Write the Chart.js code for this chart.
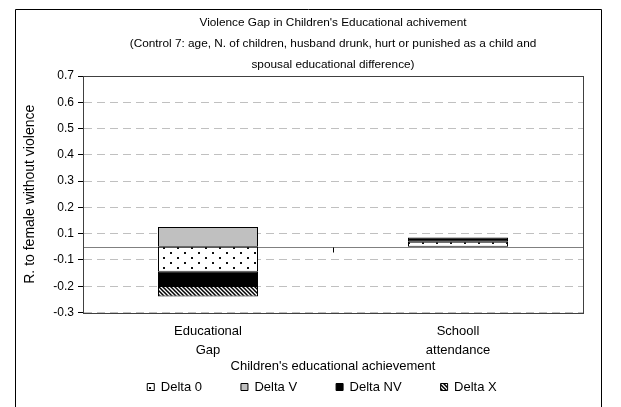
<!DOCTYPE html>
<html>
<head>
<meta charset="utf-8">
<script src="https://cdn.jsdelivr.net/npm/chart.js@4/dist/chart.umd.min.js"></script>
<style>
html, body { margin: 0; padding: 0; background: #fff; }
#wrap { width: 621px; height: 407px; }
</style>
</head>
<body>
<div id="wrap"><canvas id="gapChart" width="621" height="407"></canvas></div>
<script>
// values
var categories = [['Educational', 'Gap'], ['Schooll', 'attendance']];
var delta0 = [-0.095, 0.019];
var deltaV = [0.075, 0];
var deltaNV = [-0.054, 0.016];
var deltaX = [-0.04, 0];

// the axis ticks sit half way between the printed values
var yTickValues = [-0.25, -0.15, -0.05, 0.05, 0.15, 0.25, 0.35, 0.45, 0.55, 0.65];
var yTickLabels = ['-0.3', '-0.2', '-0.1', '0.1', '0.2', '0.3', '0.4', '0.5', '0.6', '0.7'];

var titleLines = [
    "Violence Gap in Children's Educational achivement",
    "(Control 7: age, N. of children, husband drunk, hurt or punished as a child and",
    "spousal educational difference)"
];
var yTitle = 'R. to female without violence';
var xTitle = "Children's educational achievement";

var FONT = "'Liberation Sans', Arial, sans-serif";

function makePattern(w, h, draw) {
    var c = document.createElement('canvas');
    c.width = w;
    c.height = h;
    var g = c.getContext('2d');
    draw(g, w, h);
    return g.createPattern(c, 'repeat');
}

var dotPattern = makePattern(14, 10, function (g, w, h) {
    g.fillStyle = '#fff';
    g.fillRect(0, 0, w, h);
    g.fillStyle = '#111';
    g.fillRect(2, 2, 2, 2);
    g.fillRect(9, 7, 2, 2);
});

var hatchPattern = makePattern(4, 4, function (g, w, h) {
    g.fillStyle = '#fff';
    g.fillRect(0, 0, w, h);
    g.strokeStyle = '#000';
    g.lineWidth = 1.5;
    g.beginPath();
    g.moveTo(-1, -1); g.lineTo(5, 5);
    g.moveTo(-1, 3); g.lineTo(1, 5);
    g.moveTo(3, -1); g.lineTo(5, 1);
    g.stroke();
});

var framePlugin = {
    id: 'frame',
    beforeDraw: function (chart) {
        var ctx = chart.ctx;
        ctx.save();
        ctx.fillStyle = '#fff';
        ctx.fillRect(0, 0, chart.width, chart.height);
        ctx.restore();
    },
    afterLayout: function (chart) {
        // legend sits closer to the axis title than chart.js would put it
        var lg = chart.legend;
        lg.top = 341.5;
        lg.bottom = chart.height;
        lg.height = lg.bottom - lg.top;
        lg.left -= 11;
        lg.right -= 11;
    },
    beforeDatasetsDraw: function (chart) {
        var ctx = chart.ctx, a = chart.chartArea;
        var xs = chart.scales.x, ys = chart.scales.y;
        var y0 = Math.round(ys.getPixelForValue(0)) + 0.5;
        var mid = Math.round((xs.getPixelForValue(0) + xs.getPixelForValue(1)) / 2) + 0.5;
        ctx.save();
        ctx.strokeStyle = '#808080';
        ctx.lineWidth = 1;
        ctx.beginPath();
        ctx.moveTo(a.left, y0);
        ctx.lineTo(a.right, y0);
        ctx.stroke();
        ctx.strokeStyle = '#000';
        ctx.beginPath();
        ctx.moveTo(mid, y0);
        ctx.lineTo(mid, y0 + 5);
        ctx.stroke();
        ctx.restore();
    },
    afterDraw: function (chart) {
        var ctx = chart.ctx, a = chart.chartArea;
        ctx.save();
        ctx.lineWidth = 1;
        ctx.strokeStyle = '#404040';
        ctx.strokeRect(Math.round(a.left) + 0.5, Math.round(a.top) + 0.5,
            Math.round(a.right - a.left), Math.round(a.bottom - a.top));
        // outer chart frame
        ctx.strokeStyle = '#000';
        ctx.beginPath();
        ctx.moveTo(15.5, chart.height + 2);
        ctx.lineTo(15.5, 9.5);
        ctx.lineTo(601.5, 9.5);
        ctx.lineTo(601.5, chart.height + 2);
        ctx.stroke();
        ctx.restore();
    }
};

var ctx = document.getElementById('gapChart').getContext('2d');
var gapChart = new Chart(ctx, {
    type: 'bar',
    data: {
        labels: categories,
        datasets: [
            { label: 'Delta 0', data: delta0, backgroundColor: dotPattern },
            { label: 'Delta V', data: deltaV, backgroundColor: '#c0c0c0' },
            { label: 'Delta NV', data: deltaNV, backgroundColor: '#000' },
            { label: 'Delta X', data: deltaX, backgroundColor: hatchPattern }
        ]
    },
    options: {
        responsive: false,
        animation: false,
        datasets: {
            bar: {
                borderColor: '#000',
                borderWidth: 1,
                borderSkipped: false,
                barPercentage: 0.4,
                categoryPercentage: 1
            }
        },
        layout: { padding: { left: 15, right: 38, top: 2, bottom: 9.5 } },
        scales: {
            x: {
                stacked: true,
                grid: { display: false, drawTicks: false, tickLength: 0 },
                border: { display: false },
                ticks: {
                    color: '#000',
                    padding: 9,
                    maxRotation: 0,
                    font: { family: FONT, size: 13, lineHeight: '19px' }
                },
                title: {
                    display: true,
                    text: xTitle,
                    color: '#000',
                    font: { family: FONT, size: 13, lineHeight: '15px' },
                    padding: { top: 0, bottom: 0 }
                },
                afterFit: function (scale) { scale.height = 61; }
            },
            y: {
                stacked: true,
                min: -0.25,
                max: 0.65,
                afterBuildTicks: function (scale) {
                    scale.ticks = yTickValues.map(function (v) { return { value: v }; });
                },
                afterFit: function (scale) { scale.width = 68; },
                grid: {
                    color: '#c0c0c0',
                    tickColor: '#000',
                    tickLength: 5,
                    tickBorderDash: []
                },
                border: { display: true, color: '#000', dash: [8, 5] },
                ticks: {
                    color: '#000',
                    padding: 4,
                    autoSkip: false,
                    font: { family: FONT, size: 12 },
                    callback: function (value, index) { return yTickLabels[index]; }
                },
                title: {
                    display: true,
                    text: yTitle,
                    color: '#000',
                    font: { family: FONT, size: 14 },
                    padding: { top: 6.6, bottom: 0 }
                }
            }
        },
        plugins: {
            title: {
                display: true,
                fullSize: false,
                text: titleLines,
                color: '#000',
                font: { family: FONT, size: 11.8, weight: 'normal', lineHeight: '21px' },
                padding: { top: 10.5, bottom: 0.5 }
            },
            legend: {
                position: 'bottom',
                fullSize: false,
                maxHeight: 24,
                labels: {
                    boxWidth: 7,
                    boxHeight: 7,
                    padding: 39,
                    color: '#000',
                    font: { family: FONT, size: 13 }
                }
            },
            tooltip: { enabled: false }
        }
    },
    plugins: [framePlugin]
});
</script>
</body>
</html>
